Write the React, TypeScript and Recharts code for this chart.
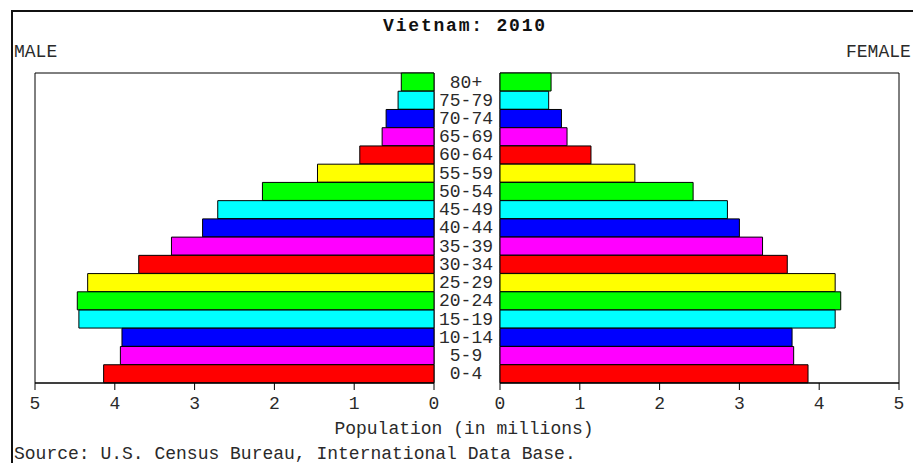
import * as React from 'react';
import { BarChart, Bar, XAxis, YAxis, Cell, ReferenceArea } from 'recharts';

// age groups, youngest first (drawn bottom-up)
const ageGroups = [
  '0-4', '5-9', '10-14', '15-19', '20-24', '25-29', '30-34', '35-39', '40-44',
  '45-49', '50-54', '55-59', '60-64', '65-69', '70-74', '75-79', '80+',
];
// population in millions
const male = [4.14, 3.93, 3.91, 4.45, 4.47, 4.34, 3.7, 3.29, 2.9, 2.71, 2.15, 1.46, 0.93, 0.65, 0.6, 0.45, 0.41];
const female = [3.86, 3.68, 3.66, 4.2, 4.27, 4.2, 3.6, 3.29, 3.0, 2.85, 2.42, 1.69, 1.14, 0.84, 0.77, 0.61, 0.64];
const xTicks = [0, 1, 2, 3, 4, 5];

const palette = ['#ff0000', '#ff00ff', '#0000ff', '#00ffff', '#00ff00', '#ffff00'];
const FONT = '"Liberation Mono", "DejaVu Sans Mono", monospace';
const INK = '#2a2a2a';

// top row first for a vertical layout
const rows = ageGroups
  .map((age, i) => ({ age, male: male[i], female: female[i], color: palette[i % palette.length] }))
  .reverse();

const tickStyle = { fill: INK, fontSize: 18, fontFamily: FONT };

function AgeTick(props: any) {
  const { x, y, payload } = props;
  return (
    <text x={x - 34} y={y} dy="0.3em" textAnchor="middle" fill={INK} fontSize={18} fontFamily={FONT}>
      {payload.value}
    </text>
  );
}

const text = (style: React.CSSProperties): React.CSSProperties => ({
  position: 'absolute',
  fontFamily: FONT,
  fontSize: 18,
  color: INK,
  whiteSpace: 'nowrap',
  lineHeight: '20px',
  ...style,
});

export default function App() {
  return (
    <div style={{ position: 'absolute', left: 0, top: 0, width: 913, height: 463, overflow: 'hidden', background: '#fff' }}>
      <div style={{ position: 'absolute', left: 11, top: 10, width: 1000, height: 500, borderLeft: '2px solid #111', borderTop: '2px solid #111' }} />
      <div style={text({ left: 0, width: 930, top: 16, textAlign: 'center', fontWeight: 'bold', letterSpacing: 1.8, color: '#111' })}>Vietnam: 2010</div>
      <div style={text({ left: 14, top: 42 })}>MALE</div>
      <div style={text({ left: 846, top: 42 })}>FEMALE</div>

      <div style={{ position: 'absolute', left: 0, top: 0 }}>
        <BarChart width={440} height={463} data={rows} layout="vertical" barCategoryGap={0}
          margin={{ top: 73, right: 6, bottom: 50, left: 35 }}>
          <XAxis type="number" domain={[0, 5]} ticks={xTicks} reversed height={30}
            axisLine={{ stroke: '#000' }} tickLine={{ stroke: '#000' }} tickSize={7} tickMargin={6}
            tick={tickStyle} />
          <YAxis type="category" dataKey="age" hide />
          <Bar dataKey="male" stroke="#000" strokeWidth={1} isAnimationActive={false}>
            {rows.map((r) => <Cell key={r.age} fill={r.color} />)}
          </Bar>
          <ReferenceArea x1={0} x2={5} fill="none" stroke="#000" strokeWidth={1} />
        </BarChart>
      </div>

      <div style={{ position: 'absolute', left: 434, top: 0 }}>
        <BarChart width={480} height={463} data={rows} layout="vertical" barCategoryGap={0}
          margin={{ top: 73, right: 15, bottom: 50, left: 0 }}>
          <XAxis type="number" domain={[0, 5]} ticks={xTicks} height={30}
            axisLine={{ stroke: '#000' }} tickLine={{ stroke: '#000' }} tickSize={7} tickMargin={6}
            tick={tickStyle} />
          <YAxis type="category" dataKey="age" width={66} axisLine={false} tickLine={false}
            tickSize={0} tickMargin={0} tick={<AgeTick />} interval={0} />
          <Bar dataKey="female" stroke="#000" strokeWidth={1} isAnimationActive={false}>
            {rows.map((r) => <Cell key={r.age} fill={r.color} />)}
          </Bar>
          <ReferenceArea x1={0} x2={5} fill="none" stroke="#000" strokeWidth={1} />
        </BarChart>
      </div>

      <div style={text({ left: 0, width: 928, top: 419, textAlign: 'center' })}>Population (in millions)</div>
      <div style={text({ left: 14, top: 444 })}>Source: U.S. Census Bureau, International Data Base.</div>
    </div>
  );
}
